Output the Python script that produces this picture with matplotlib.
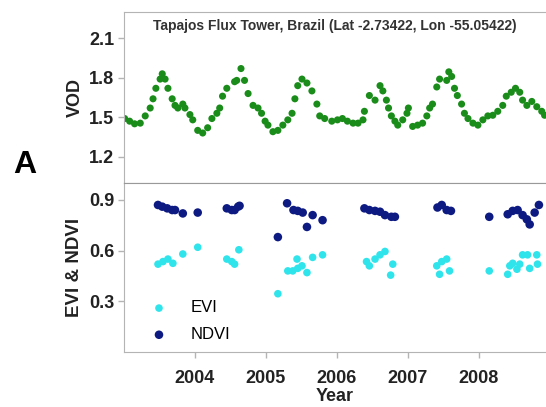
import matplotlib
matplotlib.use("Agg")
import matplotlib.pyplot as plt

plt.rcParams['font.family'] = ['Liberation Sans', 'DejaVu Sans']

# VOD series (decimal year, value)
vod_year = [2003.01, 2003.08, 2003.15, 2003.23, 2003.30, 2003.37, 2003.41, 2003.45,
            2003.51, 2003.54, 2003.58, 2003.62, 2003.68, 2003.72, 2003.76, 2003.83,
            2003.86, 2003.93, 2003.97, 2004.04, 2004.11, 2004.18, 2004.24, 2004.31,
            2004.35, 2004.39, 2004.45, 2004.56, 2004.59, 2004.65, 2004.70, 2004.75,
            2004.82, 2004.89, 2004.94, 2004.99, 2005.03, 2005.10, 2005.17, 2005.24,
            2005.31, 2005.37, 2005.41, 2005.45, 2005.51, 2005.58, 2005.65, 2005.72,
            2005.76, 2005.83, 2005.93, 2006.01, 2006.08, 2006.15, 2006.23, 2006.30,
            2006.37, 2006.39, 2006.46, 2006.54, 2006.61, 2006.65, 2006.70, 2006.73,
            2006.77, 2006.82, 2006.86, 2006.93, 2006.99, 2007.01, 2007.07, 2007.14,
            2007.21, 2007.27, 2007.31, 2007.35, 2007.41, 2007.45, 2007.55, 2007.58,
            2007.62, 2007.66, 2007.70, 2007.76, 2007.80, 2007.85, 2007.92, 2007.99,
            2008.06, 2008.13, 2008.20, 2008.27, 2008.34, 2008.39, 2008.46, 2008.52,
            2008.58, 2008.62, 2008.68, 2008.75, 2008.82, 2008.89, 2008.93]
vod = [1.49, 1.47, 1.45, 1.455, 1.51, 1.57, 1.64, 1.72,
       1.79, 1.83, 1.79, 1.72, 1.64, 1.59, 1.57, 1.60,
       1.57, 1.52, 1.48, 1.40, 1.38, 1.42, 1.49, 1.53,
       1.57, 1.66, 1.72, 1.77, 1.78, 1.87, 1.78, 1.68,
       1.59, 1.57, 1.53, 1.47, 1.44, 1.39, 1.40, 1.44,
       1.48, 1.53, 1.64, 1.74, 1.79, 1.76, 1.70, 1.60,
       1.51, 1.49, 1.47, 1.48, 1.49, 1.47, 1.455, 1.455,
       1.48, 1.545, 1.665, 1.63, 1.74, 1.70, 1.63, 1.57,
       1.51, 1.47, 1.44, 1.48, 1.53, 1.57, 1.43, 1.44,
       1.455, 1.51, 1.57, 1.60, 1.73, 1.79, 1.78, 1.845,
       1.81, 1.72, 1.665, 1.60, 1.53, 1.49, 1.455, 1.44,
       1.48, 1.51, 1.515, 1.545, 1.59, 1.66, 1.69, 1.72,
       1.69, 1.63, 1.59, 1.62, 1.58, 1.545, 1.515]

# NDVI
ndvi_year = [2003.48, 2003.54, 2003.61, 2003.68, 2003.72, 2003.83, 2004.04,
             2004.45, 2004.52, 2004.56, 2004.61, 2004.63,
             2005.17, 2005.30, 2005.39, 2005.45, 2005.52, 2005.58, 2005.66, 2005.80,
             2006.39, 2006.46, 2006.54, 2006.61, 2006.68, 2006.77, 2006.82,
             2007.42, 2007.48, 2007.55, 2007.61,
             2008.15, 2008.41, 2008.48, 2008.55, 2008.62, 2008.68, 2008.72, 2008.79, 2008.85]
ndvi = [0.87, 0.86, 0.85, 0.84, 0.84, 0.82, 0.825,
        0.85, 0.84, 0.84, 0.86, 0.865,
        0.68, 0.88, 0.84, 0.835, 0.825, 0.74, 0.81, 0.78,
        0.85, 0.84, 0.835, 0.83, 0.81, 0.80, 0.80,
        0.855, 0.87, 0.84, 0.835,
        0.80, 0.815, 0.835, 0.84, 0.81, 0.785, 0.755, 0.825, 0.87]

# EVI
evi_year = [2003.48, 2003.55, 2003.62, 2003.69, 2003.83, 2004.04,
            2004.45, 2004.52, 2004.56, 2004.62,
            2005.17, 2005.31, 2005.38, 2005.44, 2005.45, 2005.51, 2005.58, 2005.66, 2005.80,
            2006.42, 2006.46, 2006.54, 2006.61, 2006.68, 2006.76, 2006.79,
            2007.41, 2007.45, 2007.48, 2007.55, 2007.59,
            2008.15, 2008.41, 2008.44, 2008.48, 2008.54, 2008.58, 2008.62, 2008.69,
            2008.72, 2008.82, 2008.83]
evi = [0.52, 0.535, 0.55, 0.525, 0.58, 0.62,
       0.55, 0.535, 0.52, 0.605,
       0.345, 0.48, 0.48, 0.55, 0.495, 0.51, 0.47, 0.56, 0.575,
       0.535, 0.51, 0.55, 0.575, 0.595, 0.455, 0.52,
       0.51, 0.46, 0.535, 0.55, 0.48,
       0.48, 0.46, 0.51, 0.525, 0.49, 0.52, 0.575, 0.575,
       0.495, 0.575, 0.52]

years = [2004, 2005, 2006, 2007, 2008]

fig = plt.figure(figsize=(5.46, 4.07), dpi=100)
ax1 = fig.add_axes([0.227, 0.5504, 0.773, 0.4201])
ax2 = fig.add_axes([0.227, 0.135, 0.773, 0.4154])

spine_col = '#b4b4b4'
for ax in (ax1, ax2):
    ax.set_xlim(2003.0, 2008.95)
    for s in ax.spines.values():
        s.set_color(spine_col)
    ax.spines['right'].set_visible(False)
    ax.tick_params(color=spine_col, length=4, width=1, labelsize=13, pad=3)

ax1.scatter(vod_year, vod, s=26, color='#1a8c1a', edgecolors='none')
ax1.set_ylim(1.0, 2.3)
ax1.set_yticks([1.2, 1.5, 1.8, 2.1])
ax1.set_yticklabels(['1.2', '1.5', '1.8', '2.1'], fontweight='bold', color='#222222')
ax1.set_xticks([])
ax1.set_ylabel('VOD', fontsize=13, fontweight='bold', color='#222222', labelpad=4)
ax1.spines['bottom'].set_color('#999999')
ax1.text(0.5, 0.918, 'Tapajos Flux Tower, Brazil (Lat -2.73422, Lon -55.05422)',
         transform=ax1.transAxes, ha='center', va='center', fontsize=10,
         fontweight='bold', color='#333333')

ax2.scatter(evi_year, evi, s=30, color='#30e4ec', edgecolors='none', label='EVI')
ax2.scatter(ndvi_year, ndvi, s=38, color='#0d1a82', edgecolors='none', label='NDVI')
ax2.set_ylim(0.0, 1.0)
ax2.set_yticks([0.3, 0.6, 0.9])
ax2.set_yticklabels(['0.3', '0.6', '0.9'], fontweight='bold', color='#222222')
ax2.set_xticks(years)
ax2.set_xticklabels([str(y) for y in years], fontweight='bold', color='#222222')
ax2.tick_params(axis='x', pad=9)
ax2.spines['top'].set_color('#999999')
ax2.set_xlabel('Year', fontsize=13, fontweight='bold', color='#222222', labelpad=1)
ax2.set_ylabel('EVI & NDVI', fontsize=13.5, fontweight='bold', color='#222222', labelpad=4)
ax2.legend(loc='lower left', bbox_to_anchor=(0.008, -0.03), frameon=False,
           fontsize=12, handletextpad=0.9, labelspacing=0.7)

fig.text(0.045, 0.595, 'A', fontsize=23, fontweight='bold', ha='center', va='center')

fig.savefig('out.png', dpi=100)
